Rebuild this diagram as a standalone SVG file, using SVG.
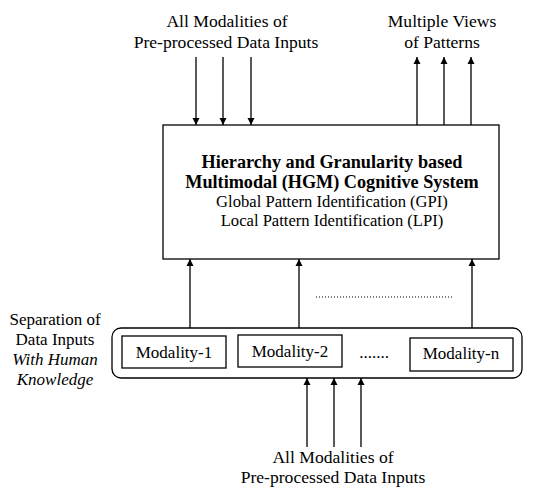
<svg xmlns="http://www.w3.org/2000/svg" width="547" height="489" viewBox="0 0 547 489">
<style>
text{font-family:"Liberation Serif","Times New Roman",serif;font-size:17px;fill:#000;text-anchor:middle}
.lb{font-size:17.6px}
.b{font-weight:bold;font-size:18.2px}
.r{font-size:16.6px}
.i{font-style:italic}
.box{fill:#fff;stroke:#000;stroke-width:1.3}
.ln{stroke:#000;stroke-width:1.3;fill:none}
</style>
<defs>
<marker id="ah" viewBox="0 0 10 10" refX="10" refY="5" markerWidth="7" markerHeight="9" markerUnits="userSpaceOnUse" orient="auto">
<path d="M0,0 L10,5 L0,10 z" fill="#000"/>
</marker>
</defs>
<g id="top-input-label">
<text class="lb" x="227" y="27">All Modalities of</text>
<text class="lb" x="226" y="48">Pre-processed Data Inputs</text>
</g>
<g id="top-output-label">
<text class="lb" x="442" y="27">Multiple Views</text>
<text class="lb" x="442" y="48">of Patterns</text>
</g>
<g id="hgm-system">
<rect class="box" x="163" y="125" width="336" height="134"/>
<text class="b" x="332" y="168">Hierarchy and Granularity based</text>
<text class="b" x="332" y="188">Multimodal (HGM) Cognitive System</text>
<text class="r" x="332" y="207">Global Pattern Identification (GPI)</text>
<text class="r" x="332" y="226">Local Pattern Identification (LPI)</text>
</g>
<g id="separation-label">
<text x="55" y="325">Separation of</text>
<text x="55" y="345">Data Inputs</text>
<text class="i" x="55" y="365">With Human</text>
<text class="i" x="55" y="385">Knowledge</text>
</g>
<g id="modality-container">
<rect class="box" x="112" y="328" width="410" height="50" rx="9"/>
</g>
<g id="modality-1">
<rect class="box" x="122" y="336" width="104" height="32"/>
<text x="174" y="358">Modality-1</text>
</g>
<g id="modality-2">
<rect class="box" x="238" y="335" width="104" height="32"/>
<text x="290" y="357">Modality-2</text>
</g>
<g id="modality-ellipsis">
<text x="374" y="358">.......</text>
</g>
<g id="modality-n">
<rect class="box" x="410" y="338" width="103" height="33"/>
<text x="461" y="359">Modality-n</text>
</g>
<g id="bottom-input-label">
<text class="lb" x="333" y="463">All Modalities of</text>
<text class="lb" x="333" y="483">Pre-processed Data Inputs</text>
</g>
<g id="connectors">
<line class="ln" x1="196" y1="57" x2="196" y2="125" marker-end="url(#ah)"/>
<line class="ln" x1="223" y1="57" x2="223" y2="125" marker-end="url(#ah)"/>
<line class="ln" x1="251" y1="57" x2="251" y2="125" marker-end="url(#ah)"/>
<line class="ln" x1="417" y1="125" x2="417" y2="57" marker-end="url(#ah)"/>
<line class="ln" x1="444" y1="125" x2="444" y2="57" marker-end="url(#ah)"/>
<line class="ln" x1="471" y1="125" x2="471" y2="57" marker-end="url(#ah)"/>
<line class="ln" x1="190" y1="328" x2="190" y2="259" marker-end="url(#ah)"/>
<line class="ln" x1="299" y1="328" x2="299" y2="259" marker-end="url(#ah)"/>
<line class="ln" x1="472" y1="328" x2="472" y2="259" marker-end="url(#ah)"/>
<line x1="316" y1="297" x2="453" y2="297" stroke="#000" stroke-width="1.2" stroke-dasharray="1,2"/>
<line class="ln" x1="307" y1="447" x2="307" y2="378" marker-end="url(#ah)"/>
<line class="ln" x1="334" y1="447" x2="334" y2="378" marker-end="url(#ah)"/>
<line class="ln" x1="361" y1="447" x2="361" y2="378" marker-end="url(#ah)"/>
</g>
</svg>
